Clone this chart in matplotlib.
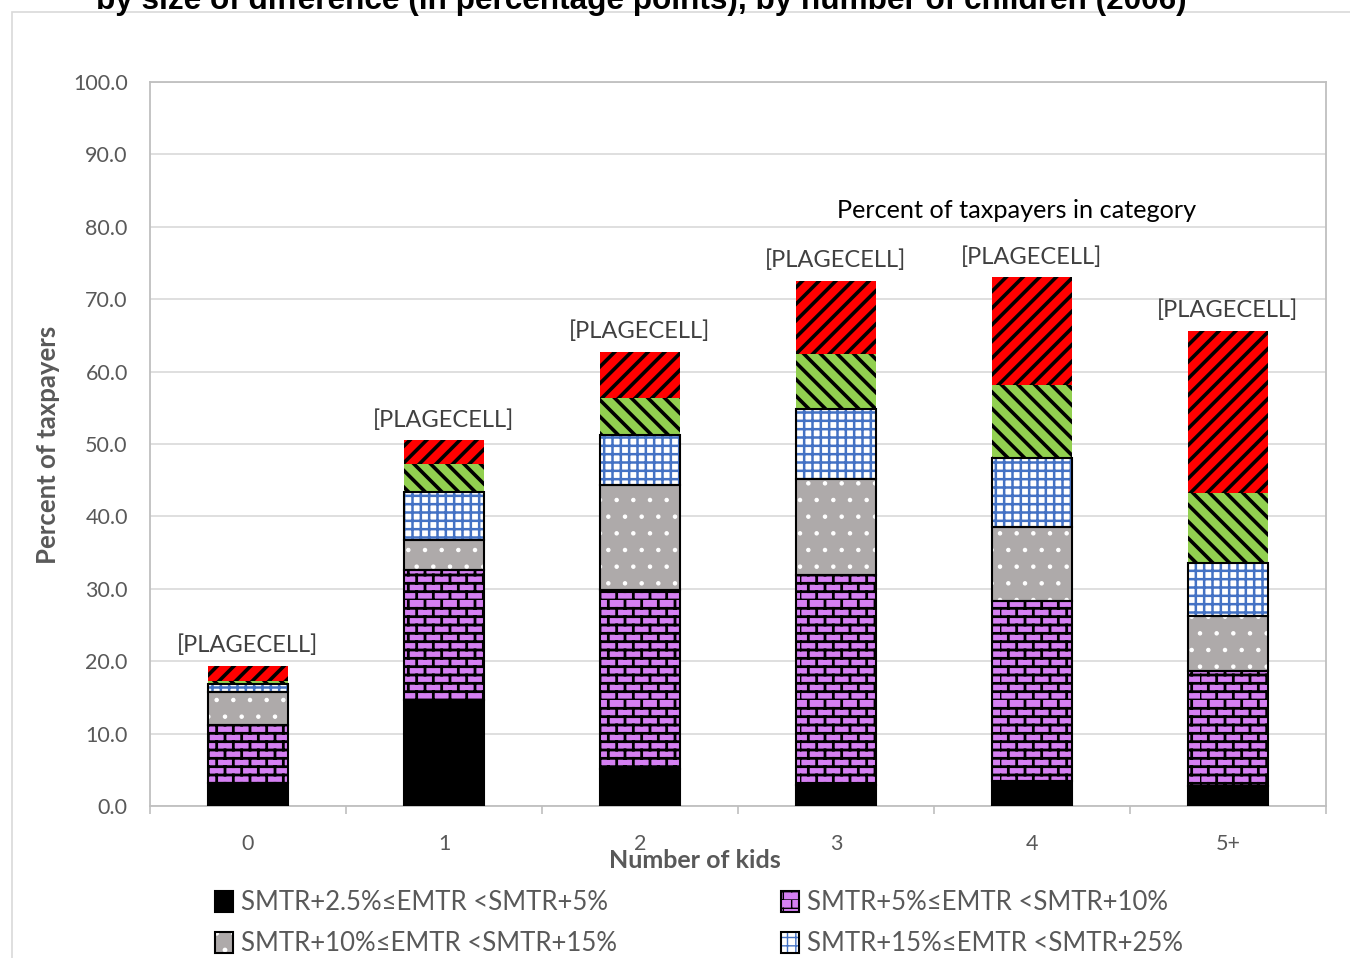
import warnings
import matplotlib
matplotlib.use("Agg")
import matplotlib.pyplot as plt
from matplotlib import hatch as mhatch
from matplotlib.patches import Rectangle, Patch

warnings.filterwarnings("ignore")

kids = ["0", "1", "2", "3", "4", "5+"]

# percent of taxpayers, by EMTR band (stacked from the bottom)
band_2_5 = [3.2, 14.7, 5.1, 2.9, 3.4, 2.8]
band_5_10 = [8.0, 17.9, 24.7, 29.0, 24.9, 15.8]
band_10_15 = [4.5, 4.2, 14.6, 13.3, 10.3, 7.7]
band_15_25 = [1.2, 6.6, 6.9, 9.6, 9.5, 7.2]
band_25_50 = [0.3, 3.9, 5.0, 7.6, 10.0, 9.8]
band_50 = [2.2, 3.2, 6.4, 10.1, 14.9, 22.3]

band_labels = [
    "SMTR+2.5%\u2264EMTR <SMTR+5%",
    "SMTR+5%\u2264EMTR <SMTR+10%",
    "SMTR+10%\u2264EMTR <SMTR+15%",
    "SMTR+15%\u2264EMTR <SMTR+25%",
    "SMTR+25%\u2264EMTR <SMTR+50%",
    "SMTR+50%\u2264EMTR",
]
cell_label = "[PLAGECELL]"


# brick hatch ('b'), like the spreadsheet "brick" pattern fill
class Bricks(mhatch.HatchPatternBase):
    def __init__(self, hatch, density):
        n = hatch.count("b")
        self.rows = 2 * n * density
        self.cols = max(n * density, 1)
        self.num_vertices = (self.rows * 2 + self.rows * self.cols * 2) if n else 0

    def set_vertices_and_codes(self, vertices, codes):
        k = 0
        for i in range(self.rows):
            y0 = i / self.rows
            vertices[k] = (0.0, y0)
            vertices[k + 1] = (1.0, y0)
            codes[k] = 1
            codes[k + 1] = 2
            k += 2
        for i in range(self.rows):
            y0 = i / self.rows
            y1 = (i + 1) / self.rows
            shift = 0.5 if i % 2 else 0.0
            for j in range(self.cols):
                x = ((j + shift) / self.cols) % 1.0
                vertices[k] = (x, y0)
                vertices[k + 1] = (x, y1)
                codes[k] = 1
                codes[k + 1] = 2
                k += 2


mhatch._hatch_types.append(Bricks)

plt.rcParams["font.family"] = ["Lato", "DejaVu Sans"]

fig = plt.figure(figsize=(13.5, 9.58), dpi=100)
ax = fig.add_axes([150 / 1350, 1 - 806 / 958, 1176 / 1350, 724 / 958])

# chart area frame
fig.patches.append(Rectangle((12 / 1350, -0.05), 1.2, 1 - 12 / 958 + 0.05,
                             transform=fig.transFigure, fill=False,
                             edgecolor="#D9D9D9", linewidth=1.2, zorder=0))

x = list(range(len(kids)))
w = 0.41
bottom = [0.0] * len(kids)

styles = [
    # values, face, hatch, hatch colour, hatch lw, border
    (band_2_5, "black", None, "black", 1.0, True),
    (band_5_10, "#D580F2", "b", "black", 2.0, True),
    (band_10_15, "#AEAAAA", ".", "white", 0.8, True),
    (band_15_25, "white", "++", "#4472C4", 1.8, True),
    (band_25_50, "#92D050", "\\\\", "black", 2.6, False),
    (band_50, "#FF0000", "//", "black", 2.6, False),
]

handles = []
for (vals, face, hat, hcol, hlw, border), lab in zip(styles, band_labels):
    with plt.rc_context({"hatch.linewidth": hlw}):
        ax.bar(x, vals, w, bottom=bottom, color=face, hatch=hat,
               edgecolor=hcol, linewidth=0, zorder=2)
        if border:
            ax.bar(x, vals, w, bottom=bottom, fill=False,
                   edgecolor="black", linewidth=1.5, zorder=3)
        fill_h = Patch(facecolor=face, hatch=hat, edgecolor=hcol, linewidth=0)
        edge_h = Patch(fill=False, edgecolor="black" if border else face, linewidth=1.5)
        handles.append((fill_h, edge_h))
    bottom = [b + v for b, v in zip(bottom, vals)]

for xi, top in zip(x, bottom):
    ax.annotate(cell_label, (xi, top), xytext=(0, 7), textcoords="offset points",
                ha="center", va="bottom", fontsize=17, color="#404040")

ax.text(3.92, 82.3, "Percent of taxpayers in category", ha="center", va="center",
        fontsize=18.2, color="black")

ax.set_xlim(-0.5, 5.5)
ax.set_ylim(0, 100)
ax.set_yticks(range(0, 101, 10))
ax.set_yticklabels(["%.1f" % v for v in range(0, 101, 10)])
ax.set_xticks(x)
ax.set_xticklabels(kids)
ax.set_xticks([i - 0.5 for i in range(len(kids) + 1)], minor=True)
ax.tick_params(axis="x", which="major", length=0, pad=20, labelsize=15.5, labelcolor="#595959")
ax.tick_params(axis="x", which="minor", length=6, color="#BFBFBF", width=1.2)
ax.tick_params(axis="y", length=0, pad=16, labelsize=15.5, labelcolor="#595959")
ax.grid(axis="y", color="#D9D9D9", linewidth=1.2, zorder=0)
ax.set_axisbelow(True)
for sp in ax.spines.values():
    sp.set_color("#BFBFBF")
    sp.set_linewidth(1.3)

fig.text(695 / 1350, 1 - 860 / 958, "Number of kids", ha="center", va="center",
         fontsize=18, fontweight="bold", color="#595959")
fig.text(48 / 1350, 1 - 445 / 958, "Percent of taxpayers", ha="center", va="center",
         rotation=90, fontsize=18.5, fontweight="bold", color="#595959")

fig.text(641 / 1350, 1 - 9 / 958,
         "by size of difference (in percentage points), by number of children (2006)",
         ha="center", va="baseline", fontsize=22.7, fontweight="bold",
         family="Liberation Sans", color="black")

# legend filled row by row: reorder for column-major layout
order = [0, 2, 4, 1, 3, 5]
fig.legend([handles[i] for i in order], [band_labels[i] for i in order],
           ncol=2, loc="upper left", bbox_to_anchor=(205 / 1350, 1 - 880 / 958),
           frameon=False, fontsize=18.5, labelcolor="#595959",
           handlelength=0.7, handleheight=0.85, handletextpad=0.3,
           columnspacing=6.4, labelspacing=0.62, borderaxespad=0)

fig.savefig("out.png", dpi=100)
